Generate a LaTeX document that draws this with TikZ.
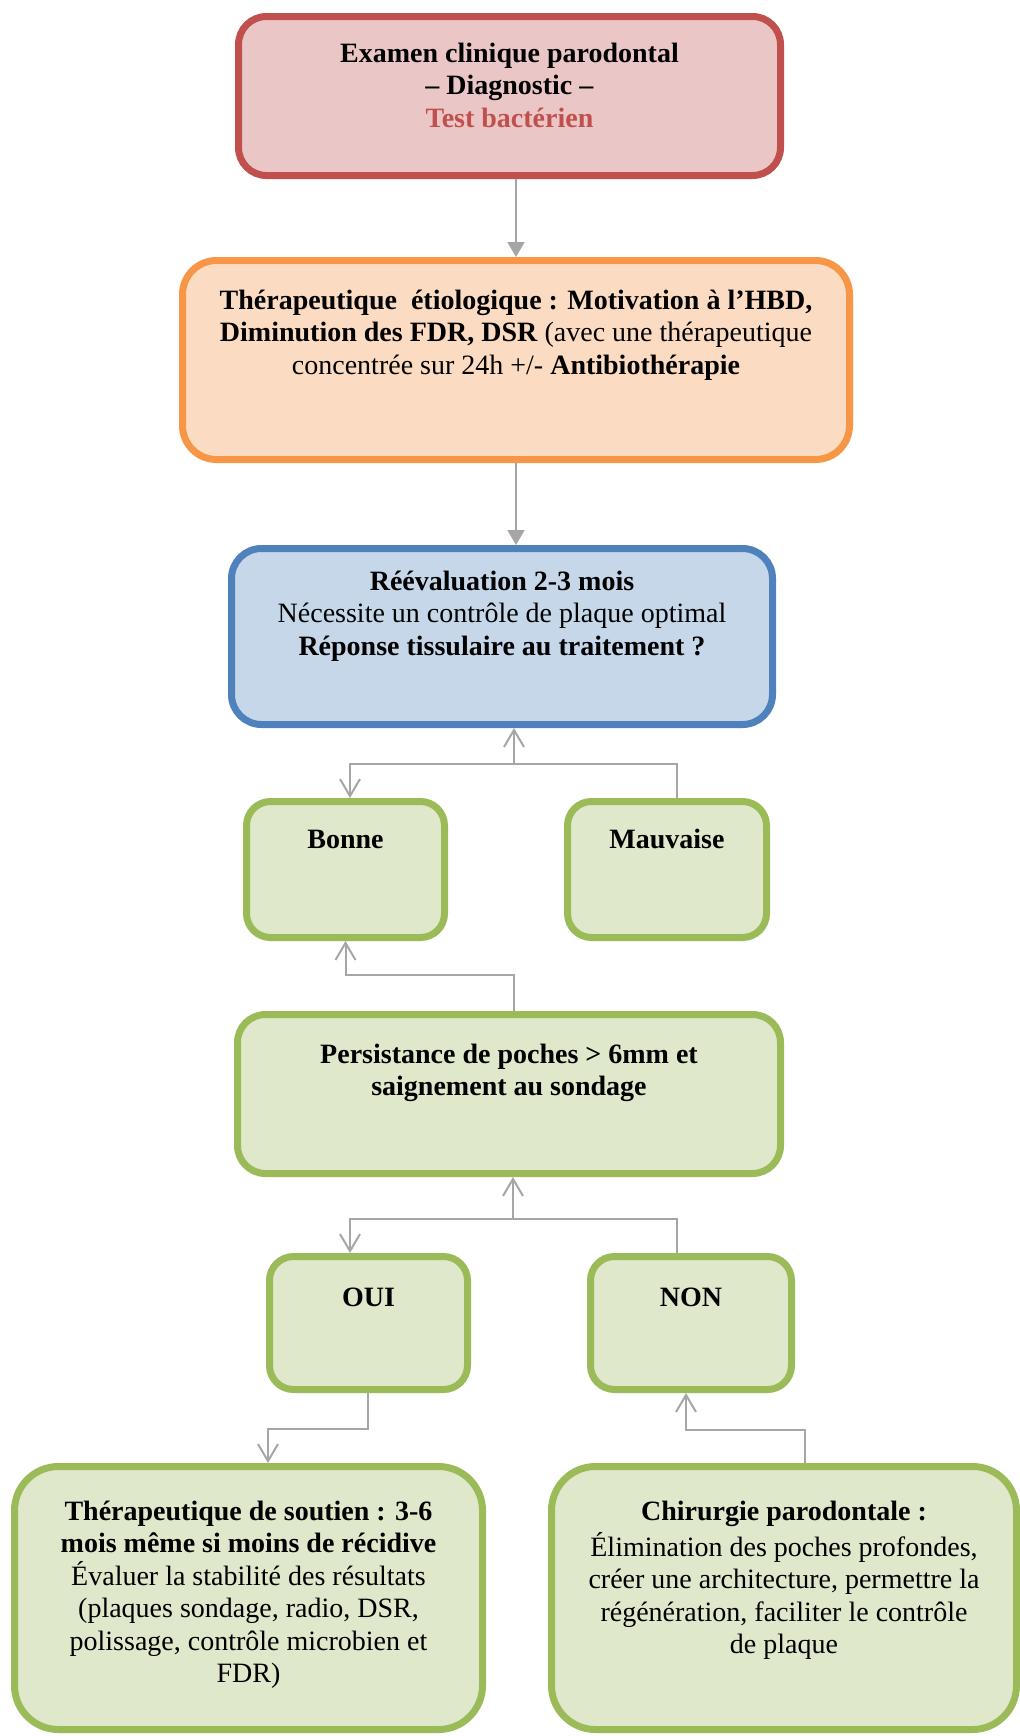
\documentclass[tikz,border=0pt]{standalone}
\usepackage{fontspec}
\setmainfont{Liberation Serif}
\usetikzlibrary{arrows.meta}
\definecolor{redfill}{HTML}{EAC7C6}
\definecolor{redline}{HTML}{C0504D}
\definecolor{orangefill}{HTML}{FBDCC2}
\definecolor{orangeline}{HTML}{F79646}
\definecolor{bluefill}{HTML}{C6D7EA}
\definecolor{blueline}{HTML}{4F81BD}
\definecolor{greenfill}{HTML}{DFE8CA}
\definecolor{greenline}{HTML}{9BBB59}
\definecolor{linegray}{HTML}{A6A6A6}
\tikzset{
  box/.style={draw, line width=3.5pt, rounded corners=#1, inner sep=0pt},
  greenbox/.style={box=12pt, draw=greenline, fill=greenfill},
  txt/.style={anchor=north, align=center, inner sep=0pt, font=\fontsize{14}{16.2}\selectfont},
  tri/.style={draw=linegray, line width=1pt, -{Triangle[length=7.5pt,width=8.5pt]}},
  barb/.style={draw=linegray, line width=1pt, -{Straight Barb[length=8.5pt,width=10pt]}},
  plain/.style={draw=linegray, line width=1pt}
}

\begin{document}
\begin{tikzpicture}[x=1pt, y=-1pt]
	\useasboundingbox (0,0) rectangle (509.5,868);
	% boxes
	\node[box=14pt, draw=redline, fill=redfill, minimum width=271pt, minimum height=79.5pt] (exam) at (254.75,48) {};
	\node[box=17pt, draw=orangeline, fill=orangefill, minimum width=333.5pt, minimum height=99.5pt] (therap) at (258,180) {};
	\node[box=15pt, draw=blueline, fill=bluefill, minimum width=270.5pt, minimum height=88pt] (reeval) at (251,318.25) {};
	\node[greenbox, minimum width=99pt, minimum height=68pt] (bonne) at (172.75,434.75) {};
	\node[greenbox, minimum width=99.5pt, minimum height=68pt] (mauvaise) at (333.5,434.75) {};
	\node[box=14pt, draw=greenline, fill=greenfill, minimum width=271.5pt, minimum height=79.5pt] (persist) at (254.5,547) {};
	\node[greenbox, minimum width=99pt, minimum height=66.5pt] (oui) at (184.25,661.5) {};
	\node[greenbox, minimum width=100.5pt, minimum height=66.5pt] (non) at (345.5,661.5) {};
	\node[box=22pt, draw=greenline, fill=greenfill, minimum width=234pt, minimum height=131.5pt] (soutien) at (124.25,799) {};
	\node[box=22pt, draw=greenline, fill=greenfill, minimum width=232.5pt, minimum height=131.5pt] (chir) at (392,799) {};

	% texts
	\node[txt] (examtxt) at (254.75,19.7) {\strut\textbf{Examen clinique parodontal}\\\textbf{– Diagnostic –}\\\textcolor{redline}{\textbf{Test bactérien}}};
	\node[txt] (therabtxt) at (258,143.2) {\strut\textbf{Thérapeutique\ \ étiologique : Motivation à l’HBD,}\\\textbf{Diminution des FDR, DSR} (avec une thérapeutique\\concentrée sur 24h +/- \textbf{Antibiothérapie}};
	\node[txt] (reevaltxt) at (251,283.7) {\strut\textbf{Réévaluation 2-3 mois}\\Nécessite un contrôle de plaque optimal\\\textbf{Réponse tissulaire au traitement ?}};
	\node[txt] (bonnetxt) at (172.75,412.7) {\strut\textbf{Bonne}};
	\node[txt] (mauvaisetxt) at (333.5,412.7) {\strut\textbf{Mauvaise}};
	\node[txt] (persisttxt) at (254.5,520.2) {\strut\textbf{Persistance de poches > 6mm et}\\\textbf{saignement au sondage}};
	\node[txt] (ouitxt) at (184.25,641.7) {\strut\textbf{OUI}};
	\node[txt] (nontxt) at (345.5,641.7) {\strut\textbf{NON}};
	\node[txt] (soutientxt) at (124.25,748.7) {\strut\textbf{Thérapeutique de soutien : 3-6}\\\textbf{mois même si moins de récidive}\\Évaluer la stabilité des résultats\\(plaques sondage, radio, DSR,\\polissage, contrôle microbien et\\FDR)};
	\node[txt] (chirtxt) at (392,748.7) {\strut\textbf{Chirurgie parodontale :}\\Élimination des poches profondes,\\créer une architecture, permettre la\\régénération, faciliter le contrôle\\de plaque};

	% connectors
	\coordinate (j1) at (257,382);
	\coordinate (j2) at (257,487.5);
	\coordinate (j3) at (256.5,609.5);
	\coordinate (j4) at (184,714.5);
	\coordinate (j5) at (402.5,715);
	\draw[tri] (exam.south -| therap.north) -- (therap.north);
	\draw[tri] (therap.south) -- (therap.south |- reeval.north);
	\draw[plain] ([xshift=5pt]mauvaise.north) |- (j1);
	\draw[barb] (j1) -| ([xshift=2.25pt]bonne.north);
	\draw[barb] (j1) -- (j1 |- reeval.south);
	\draw[barb] (persist.north -| j2) |- (j2) -| (bonne.south);
	\draw[plain] ([xshift=-7pt]non.north) |- (j3);
	\draw[barb] (j3) -| ([xshift=-9.25pt]oui.north);
	\draw[barb] (j3) -- (j3 |- persist.south);
	\draw[barb] (oui.south -| j4) |- (j4) -| ([xshift=9.75pt]soutien.north);
	\draw[barb] (chir.north -| j5) |- (j5) -| ([xshift=-2.5pt]non.south);
\end{tikzpicture}
\end{document}
